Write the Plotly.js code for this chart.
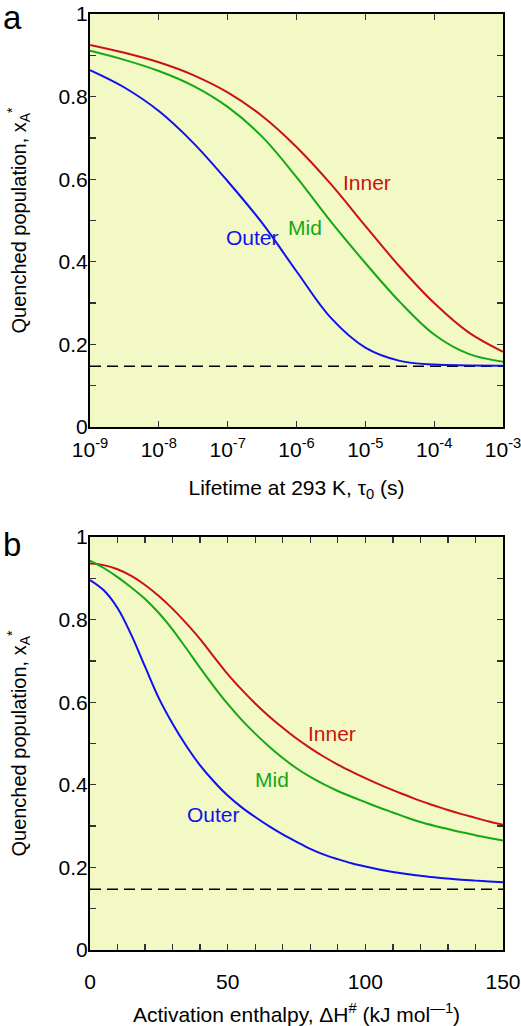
<!DOCTYPE html>
<html>
<head>
<meta charset="utf-8">
<script src="https://cdn.plot.ly/plotly-3.0.1.min.js"></script>
<style>html,body{margin:0;padding:0;background:#fff;} #chart{width:521px;height:1026px;}</style>
</head>
<body>
<div id="chart"></div>
<script>
// ---- Panel a: lifetime (log scale, s) ----
const lifetime = [1e-9, 3.162e-9, 1e-8, 3.162e-8, 1e-7, 3.162e-7, 1e-6, 3.162e-6, 1e-5, 3.162e-5, 1e-4, 3.162e-4, 1e-3];
const innerA = [0.925, 0.906, 0.883, 0.852, 0.810, 0.753, 0.678, 0.588, 0.487, 0.388, 0.300, 0.229, 0.182];
const midA   = [0.911, 0.889, 0.862, 0.826, 0.775, 0.703, 0.605, 0.497, 0.397, 0.303, 0.224, 0.177, 0.158];
const outerA = [0.864, 0.822, 0.765, 0.688, 0.595, 0.494, 0.377, 0.264, 0.192, 0.160, 0.151, 0.149, 0.148];
const lifetimeTicks = [1e-9, 1e-8, 1e-7, 1e-6, 1e-5, 1e-4, 1e-3];
const lifetimeTickText = ["10<sup>-9</sup>", "10<sup>-8</sup>", "10<sup>-7</sup>", "10<sup>-6</sup>", "10<sup>-5</sup>", "10<sup>-4</sup>", "10<sup>-3</sup>"];

// ---- Panel b: activation enthalpy (kJ/mol) ----
const enthalpy = [0, 5, 10, 15, 20, 25, 30, 35, 40, 45, 50, 55, 60, 65, 70, 75, 80, 85, 90, 95, 100, 105, 110, 115, 120, 125, 130, 135, 140, 145, 150];
const innerB = [0.936, 0.932, 0.922, 0.906, 0.884, 0.857, 0.826, 0.791, 0.753, 0.710, 0.668, 0.631, 0.597, 0.566, 0.538, 0.512, 0.489, 0.468, 0.449, 0.432, 0.416, 0.401, 0.387, 0.374, 0.361, 0.350, 0.339, 0.329, 0.320, 0.311, 0.303];
const midB   = [0.943, 0.925, 0.903, 0.878, 0.850, 0.816, 0.776, 0.730, 0.683, 0.638, 0.596, 0.558, 0.524, 0.493, 0.465, 0.440, 0.419, 0.401, 0.385, 0.371, 0.358, 0.345, 0.333, 0.321, 0.310, 0.301, 0.293, 0.285, 0.278, 0.271, 0.265];
const outerB = [0.896, 0.871, 0.828, 0.763, 0.686, 0.610, 0.548, 0.494, 0.447, 0.408, 0.374, 0.346, 0.322, 0.300, 0.280, 0.262, 0.245, 0.231, 0.220, 0.210, 0.202, 0.195, 0.189, 0.184, 0.180, 0.176, 0.173, 0.170, 0.168, 0.166, 0.164];
const enthalpyTicks = [0,10,20,30,40,50,60,70,80,90,100,110,120,130,140,150];
const enthalpyTickText = ["0","","","","","50","","","","","100","","","","","150"];

// ---- shared ----
const baseline = 0.147;
const popTicks = [0,0.1,0.2,0.3,0.4,0.5,0.6,0.7,0.8,0.9,1];
const popTickText = ["0","","0.2","","0.4","","0.6","","0.8","","1"];
const seriesNames = ["Inner", "Mid", "Outer"];
const colors = ["#cc1111", "#14a814", "#1010ee"];

const FONT = "Liberation Sans, Arial, Helvetica, sans-serif";

function line(x, y, c, xa, ya, name) {
  return {x: x, y: y, type: "scatter", mode: "lines", name: name,
    line: {color: c, width: 2, shape: "spline", smoothing: 1},
    xaxis: xa, yaxis: ya, hoverinfo: "skip"};
}
function dashed(x, xa, ya) {
  return {x: [x[0], x[x.length-1]], y: [baseline, baseline], type: "scatter", mode: "lines",
   line: {color: "#000", width: 1.4, dash: "11px,6px"}, xaxis: xa, yaxis: ya, hoverinfo: "skip"};
}
const traces = [
  dashed(lifetime, "x", "y"),
  line(lifetime, innerA, colors[0], "x", "y", seriesNames[0]),
  line(lifetime, midA, colors[1], "x", "y", seriesNames[1]),
  line(lifetime, outerA, colors[2], "x", "y", seriesNames[2]),
  dashed(enthalpy, "x2", "y2"),
  line(enthalpy, innerB, colors[0], "x2", "y2", seriesNames[0]),
  line(enthalpy, midB, colors[1], "x2", "y2", seriesNames[1]),
  line(enthalpy, outerB, colors[2], "x2", "y2", seriesNames[2])
];

const axisCommon = {
  showgrid: false, zeroline: false, showline: true, linecolor: "#000", linewidth: 2,
  mirror: "ticks", ticks: "inside", ticklen: 6, tickwidth: 1.3, tickcolor: "#333",
  tickfont: {family: FONT, size: 21, color: "#000"}, fixedrange: true,
  ticklabeloverflow: "allow"
};
const yTitle = {text: "Quenched population, x<sub>A</sub><sup>*</sup>", font: {family: FONT, size: 20, color: "#000"}, standoff: 27};

const layout = {
  width: 521, height: 1026,
  margin: {l: 90, r: 18, t: 14, b: 76},
  paper_bgcolor: "#fff", plot_bgcolor: "#f2f9c5",
  showlegend: false,
  xaxis: Object.assign({}, axisCommon, {
    type: "log", range: [-9, -3], domain: [0, 1], anchor: "y",
    tickmode: "array", tickvals: lifetimeTicks, ticktext: lifetimeTickText, ticklabelstandoff: 3,
    title: {text: "Lifetime at 293 K, τ<sub>0</sub> (s)", font: {family: FONT, size: 21, color: "#000"}, standoff: 20}
  }),
  yaxis: Object.assign({}, axisCommon, {
    range: [0, 1], domain: [0.5588, 1], anchor: "x", ticklabelstandoff: -4,
    tickmode: "array", tickvals: popTicks, ticktext: popTickText, title: yTitle
  }),
  xaxis2: Object.assign({}, axisCommon, {
    range: [0, 150], domain: [0, 1], anchor: "y2", ticklabelstandoff: 12,
    tickmode: "array", tickvals: enthalpyTicks, ticktext: enthalpyTickText,
    title: {text: "Activation enthalpy, ΔH<sup>#</sup> (kJ mol<sup>—1</sup>)", font: {family: FONT, size: 21, color: "#000"}, standoff: 18}
  }),
  yaxis2: Object.assign({}, axisCommon, {
    range: [0, 1], domain: [0, 0.4412], anchor: "x2", ticklabelstandoff: -4,
    tickmode: "array", tickvals: popTicks, ticktext: popTickText, title: yTitle
  }),
  annotations: [
    {text: "a", xref: "paper", yref: "paper", x: -0.216, y: 0.996, xanchor: "left", yanchor: "middle", showarrow: false, font: {family: FONT, size: 33, color: "#000"}},
    {text: "b", xref: "paper", yref: "paper", x: -0.216, y: 0.4327, xanchor: "left", yanchor: "middle", showarrow: false, font: {family: FONT, size: 33, color: "#000"}},
    {text: "Inner", xref: "x", yref: "y", x: -4.976, y: 0.593, showarrow: false, font: {family: FONT, size: 21, color: colors[0]}},
    {text: "Mid", xref: "x", yref: "y", x: -5.876, y: 0.482, showarrow: false, font: {family: FONT, size: 21, color: colors[1]}},
    {text: "Outer", xref: "x", yref: "y", x: -6.646, y: 0.460, showarrow: false, font: {family: FONT, size: 21, color: colors[2]}},
    {text: "Inner", xref: "x2", yref: "y2", x: 87.8, y: 0.525, showarrow: false, font: {family: FONT, size: 21, color: colors[0]}},
    {text: "Mid", xref: "x2", yref: "y2", x: 66.0, y: 0.412, showarrow: false, font: {family: FONT, size: 21, color: colors[1]}},
    {text: "Outer", xref: "x2", yref: "y2", x: 44.7, y: 0.327, showarrow: false, font: {family: FONT, size: 21, color: colors[2]}}
  ]
};

Plotly.newPlot("chart", traces, layout, {staticPlot: true, displayModeBar: false});
</script>
</body>
</html>
